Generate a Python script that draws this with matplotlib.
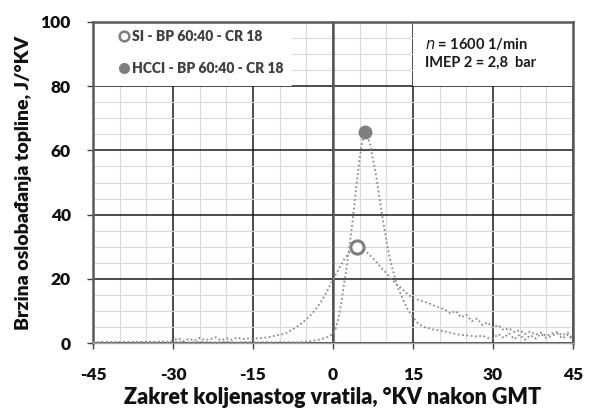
import matplotlib
matplotlib.use("Agg")
import matplotlib.pyplot as plt
from matplotlib.lines import Line2D
from matplotlib.patches import Rectangle
from matplotlib.ticker import MultipleLocator

plt.rcParams['font.family'] = ['Lato', 'DejaVu Sans']
plt.rcParams['axes.unicode_minus'] = False

# ---- data ----
si_angle = list(range(-45, 5)) + [4.5] + list(range(5, 46))
si_value = [0.2, 0.2, 0.3, 0.2, 0.3, 0.3, 0.2, 0.3, 0.4, 0.3, 0.4, 0.3, 0.4, 0.5, 0.4,
            0.8, 1.5, 0.6, 1.3, 0.7, 1.6, 0.9, 1.2, 1.8, 0.8, 1.5, 1.0, 1.7, 1.2, 1.4,
            1.2, 1.5, 1.6, 1.9, 2.2, 2.6, 2.9, 3.8, 4.8, 6.0, 7.4, 9.0, 11.0, 13.5, 16.5,
            19.8, 22.8, 25.8, 28.2, 29.5,
            29.8,
            29.6, 28.8, 27.2, 25.5, 23.5, 21.8, 19.8, 18.2, 16.8, 15.2,
            14.0, 13.4, 12.9, 12.4, 11.6, 11.0, 10.4, 9.2, 10.0, 8.0,
            8.8, 6.8, 7.6, 5.6, 6.4, 4.8, 5.6, 4.0, 4.6, 3.4,
            4.0, 2.8, 3.6, 2.6, 3.2, 2.2, 3.0, 3.4, 2.4, 3.2, 1.2]
si_peak = 4.5

hcci_angle = (list(range(-45, 0)) +
              [0, 0.5, 1, 1.5, 2, 2.5, 3, 3.5, 4, 4.5, 5, 5.5, 6, 6.5, 7, 7.5, 8, 8.5,
               9, 9.5, 10, 10.5, 11] + list(range(12, 46)))
hcci_value = ([0.3, 0.2, 0.3, 0.3, 0.2, 0.3, 0.4, 0.3, 0.2, 0.3, 0.3, 0.4, 0.3, 0.3, 0.2,
               0.3, 0.4, 0.3, 0.2, 0.3, 0.4, 0.3, 0.3, 0.2, 0.3, 0.4, 0.3, 0.2, 0.3, 0.3,
               0.3, 0.2, 0.3, 0.3, 0.2, 0.3, 0.3, 0.3, 0.2, 0.3, 0.4, 0.6, 0.9, 1.3, 1.9] +
              [2.8, 4.5, 7.5, 12.0, 17.5, 23.0, 29.0, 35.5, 43.0, 50.5, 57.5, 63.0, 65.7,
               64.5, 61.5, 57.0, 53.0, 47.5, 42.0, 37.0, 32.0, 27.5, 24.0] +
              [18.0, 14.0, 10.5, 8.0, 6.0, 5.0, 4.6, 4.1, 3.9, 3.6, 3.2, 2.8, 2.5, 2.4,
               2.2, 2.0, 2.3, 1.6, 1.4, 2.8, 1.6, 3.0, 1.2, 2.6, 1.0, 2.4, 1.4, 2.8,
               1.6, 2.2, 3.0, 1.4, 2.6, 0.8])
hcci_peak = 6

si_label = "SI - BP 60:40 - CR 18"
hcci_label = "HCCI - BP 60:40 - CR 18"
x_ticks = [-45, -30, -15, 0, 15, 30, 45]
y_ticks = [0, 20, 40, 60, 80, 100]
xlabel = "Zakret koljenastog vratila, °KV nakon GMT"
ylabel = "Brzina oslobađanja topline, J/°KV"
note_lines = ["$\\it{n}$ = 1600 1/min", "IMEP 2 = 2,8  bar"]

# ---- figure ----
fig = plt.figure(figsize=(5.96, 4.17), dpi=100)
ax = fig.add_axes([93/596, 1-343/417, (573-93)/596, (343-22)/417])
ax.set_xlim(-45, 45)
ax.set_ylim(0, 100)
ax.set_xticks(x_ticks)
ax.set_yticks(y_ticks)
ax.xaxis.set_minor_locator(MultipleLocator(5))
ax.yaxis.set_minor_locator(MultipleLocator(5))
ax.grid(which='minor', color='#d9d9d9', lw=0.8, zorder=0)
ax.grid(which='major', color='#1a1a1a', lw=1.1, zorder=0.5)
ax.set_axisbelow(True)
ax.axvline(0, color='#595959', lw=1.8, zorder=0.6)
for s in ['left', 'right', 'top']:
    ax.spines[s].set_color('#595959')
    ax.spines[s].set_linewidth(1.8)
ax.spines['bottom'].set_color('#a6a6a6')
ax.spines['bottom'].set_linewidth(1.0)
ax.tick_params(which='minor', length=0)
ax.tick_params(which='major', direction='out', length=4, width=1, color='#404040')
ax.tick_params(axis='x', pad=13)
ax.tick_params(axis='y', pad=12)
for lab in ax.get_xticklabels() + ax.get_yticklabels():
    lab.set_fontweight('heavy')
    lab.set_fontsize(12.5)
    lab.set_color('#111111')

ax.set_xlabel(xlabel, fontsize=15.5, fontweight='heavy', labelpad=3, color='#111111')
ax.set_ylabel(ylabel, fontsize=14, fontweight='heavy', labelpad=6, color='#111111')

gray = '#8c8c8c'
dot = (0, (1, 1.4))
ax.plot(si_angle, si_value, color=gray, lw=1.3, ls=dot, zorder=3,
        marker='o', markevery=[si_angle.index(si_peak)], ms=9.5,
        mfc='white', mec='#7f7f7f', mew=2.2)
ax.plot(hcci_angle, hcci_value, color=gray, lw=1.3, ls=dot, zorder=3,
        marker='o', markevery=[hcci_angle.index(hcci_peak)], ms=9,
        mfc='#7f7f7f', mec='#7f7f7f', mew=1)

# white boxes for legend and note
ax.add_patch(Rectangle((-45, 80), 37.3, 20, facecolor='white', edgecolor='none', zorder=1))
ax.add_patch(Rectangle((15, 80), 30, 20, facecolor='white', edgecolor='none', zorder=1))

handles = [Line2D([], [], ls='none', marker='o', ms=7, mfc='white', mec='#7f7f7f', mew=1.8),
           Line2D([], [], ls='none', marker='o', ms=7, mfc='#7f7f7f', mec='#7f7f7f')]
leg = ax.legend(handles, [si_label, hcci_label], loc='upper left',
                bbox_to_anchor=(0.03, 1.015), frameon=False, handlelength=0.6,
                handletextpad=0.3, labelspacing=1.4,
                prop={'weight': 'heavy', 'size': 10})
for t in leg.get_texts():
    t.set_color('#404040')
leg.set_zorder(5)

ax.text(17.2, 93, note_lines[0], fontsize=10.5, fontweight='bold', va='center', ha='left',
        color='#1a1a1a', zorder=5)
ax.text(17.2, 87.3, note_lines[1], fontsize=10.5, fontweight='bold', va='center', ha='left',
        color='#1a1a1a', zorder=5)

fig.savefig("out.png", dpi=100)
